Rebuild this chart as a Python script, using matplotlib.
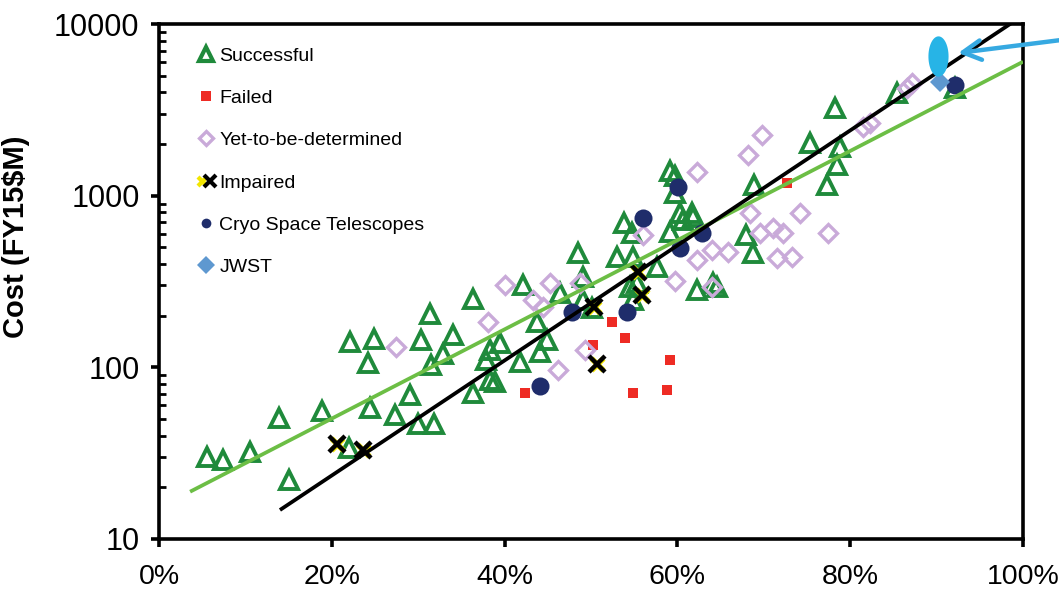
import numpy as np
import matplotlib
matplotlib.use("Agg")
import matplotlib.pyplot as plt
from matplotlib.lines import Line2D
from matplotlib.path import Path
from matplotlib.legend_handler import HandlerTuple
from matplotlib.ticker import PercentFormatter, FixedLocator, FuncFormatter, NullLocator

plt.rcParams['font.family'] = ['Liberation Sans', 'DejaVu Sans']

# ---- mission data: x = percent of development, y = cost in FY15 $M ----
succ_x = [5.6, 7.4, 10.5, 13.9, 15.0, 18.9, 22.0, 22.1, 24.2, 24.4, 24.9, 27.3, 29.1,
          30.0, 30.3, 31.4, 31.5, 31.8, 32.9, 34.0, 36.3, 36.3, 37.9, 38.3, 38.3, 38.9,
          39.5, 41.8, 42.1, 43.8, 44.1, 44.9, 46.4, 48.5, 49.1, 49.1, 50.1, 53.0, 53.8,
          54.7, 54.9, 54.5, 54.9, 55.3, 57.6, 59.1, 59.7, 59.7, 59.1, 60.3, 60.6, 61.7,
          61.8, 62.3, 64.1, 64.6, 67.9, 68.8, 68.9, 75.3, 77.3, 78.2, 78.5, 78.8, 85.4,
          92.1]
succ_y = [30, 29, 32, 51, 22, 56, 34, 141, 106, 58, 146, 53, 69,
          47, 144, 205, 103, 47, 120, 154, 250, 71, 110, 126, 84, 82,
          138, 107, 300, 184, 123, 144, 271, 463, 336, 247, 222, 440, 695,
          606, 440, 294, 247, 310, 384, 1400, 1300, 1037, 614, 793, 722, 793,
          752, 282, 310, 294, 590, 463, 1150, 2030, 1154, 3240, 1510, 1920, 3960,
          4240]

fail_x = [42.4, 50.2, 52.4, 53.9, 54.9, 58.8, 59.1, 72.7]
fail_y = [71, 135, 184, 148, 71, 74, 111, 1186]

tbd_x = [27.4, 38.1, 40.0, 43.3, 44.4, 45.3, 46.2, 48.7, 49.3, 56.0, 59.7, 62.3, 62.3,
         64.0, 64.0, 65.9, 68.2, 68.4, 69.6, 69.8, 71.1, 71.5, 72.2, 73.3, 74.2, 77.4,
         81.5, 82.3, 86.6, 87.2]
tbd_y = [131, 184, 300, 247, 225, 310, 96, 310, 126, 590, 318, 1375, 422,
         482, 294, 469, 1725, 793, 606, 2260, 648, 434, 606, 440, 793, 606,
         2510, 2650, 4240, 4530]

imp_x = [20.6, 23.6, 50.3, 50.7, 55.4, 55.9]
imp_y = [36, 33, 225, 104, 358, 264]

cryo_x = [44.1, 47.8, 54.2, 56.0, 60.1, 60.3, 62.8, 92.1]
cryo_y = [78, 210, 210, 741, 1123, 495, 606, 4420]

jwst_x = [90.4]
jwst_y = [4600]

# highlighted estimate (ellipse) and arrow tip
highlight_x = [90.2]
highlight_y = [6520]
arrow_tip = (92.5, 6780)

# exponential trend fits: log10(cost) = a + b * (percent / 100)
black_fit = (0.700, 3.35)
black_range = (14.0, 100.0)
green_fit = (1.182, 2.598)
green_range = (3.6, 100.0)

series_labels = ['Successful', 'Failed', 'Yet-to-be-determined', 'Impaired',
                 'Cryo Space Telescopes', 'JWST']
x_ticks = [0, 20, 40, 60, 80, 100]
y_ticks = [10, 100, 1000, 10000]

GREEN = '#1F8A3B'
RED = '#EE2B24'
LAVENDER = '#C9AAD9'
NAVY = '#1F2D6B'
YELLOW = '#F2E600'
STEEL = '#5E98D0'
LIGHT_GREEN = '#6CBE45'
CYAN = '#27B4E6'

fig = plt.figure(figsize=(10.59, 5.97), dpi=100)
ax = fig.add_axes([159 / 1059, 1 - 539 / 597, 864 / 1059, 515 / 597])
ax.set_yscale('log')

ax.plot(succ_x, succ_y, ls='none', marker='^', ms=13, mfc='none', mec=GREEN, mew=2.8, zorder=3)
ax.plot(fail_x, fail_y, ls='none', marker='s', ms=7, mfc=RED, mec=RED, mew=0, zorder=3)
ax.plot(tbd_x, tbd_y, ls='none', marker='D', ms=9, mfc='none', mec=LAVENDER, mew=2.4, zorder=3)
ax.plot(imp_x, imp_y, ls='none', marker='X', ms=12, mfc=YELLOW, mec='none', zorder=3.5)
ax.plot(imp_x, imp_y, ls='none', marker='x', ms=11, mec='black', mew=3.2, zorder=3.6)
ax.plot(cryo_x, cryo_y, ls='none', marker='o', ms=13, mfc=NAVY, mec=NAVY, mew=0, zorder=3.7)
ax.plot(jwst_x, jwst_y, ls='none', marker='D', ms=10, mfc=STEEL, mec=STEEL, mew=0, zorder=3.8)

# trend lines
for (a, b), (x0, x1), col in [(green_fit, green_range, LIGHT_GREEN),
                              (black_fit, black_range, 'black')]:
    xs = np.linspace(x0, x1, 200)
    ax.plot(xs, 10 ** (a + b * xs / 100), color=col, lw=2.7, zorder=4,
            solid_capstyle='butt')

# ellipse highlight
t = np.linspace(0, 2 * np.pi, 60)
ell = Path(np.column_stack([0.5 * np.cos(t), np.sin(t)]), closed=True)
ax.plot(highlight_x, highlight_y, ls='none', marker=ell, ms=29, mfc=CYAN, mec=CYAN,
        mew=0, zorder=5, clip_on=False)

ax.annotate('', xy=arrow_tip, xycoords='data', xytext=(1085, 560),
            textcoords='figure pixels', annotation_clip=False,
            arrowprops=dict(arrowstyle='->, head_length=1.3, head_width=0.7',
                            color='#36A9E1', lw=3.2, shrinkA=0, shrinkB=0),
            zorder=6)

ax.set_xlim(0, 100)
ax.set_ylim(10, 10000)
ax.xaxis.set_major_locator(FixedLocator(x_ticks))
ax.xaxis.set_major_formatter(PercentFormatter(100, decimals=0))
ax.xaxis.set_minor_locator(NullLocator())
ax.yaxis.set_major_locator(FixedLocator(y_ticks))
ax.yaxis.set_major_formatter(FuncFormatter(lambda v, p: f'{int(round(v))}'))
minor = [m * 10 ** e for e in range(1, 4) for m in range(2, 10)]
ax.yaxis.set_minor_locator(FixedLocator(minor))

for sp in ax.spines.values():
    sp.set_linewidth(2.6)
ax.tick_params(axis='both', which='major', direction='out', length=6, width=2.6,
               color='black')
ax.tick_params(axis='y', which='major', pad=8, labelsize=22)
ax.tick_params(axis='x', which='major', pad=12, labelsize=20.5)
ax.tick_params(axis='y', which='minor', direction='in', length=5, width=2.0)
ax.tick_params(top=False, right=False, which='both')

ax.set_ylabel('Cost (FY15\\$M)', fontsize=21, fontweight='bold')
ax.yaxis.set_label_coords((30 - 159) / 864, (539 - 237) / 515)

handles = [
    Line2D([], [], ls='none', marker='^', ms=10, mfc='white', mec=GREEN, mew=3),
    Line2D([], [], ls='none', marker='s', ms=7, mfc=RED, mec=RED, mew=0),
    Line2D([], [], ls='none', marker='D', ms=7, mfc='white', mec=LAVENDER, mew=2.4),
    (Line2D([], [], ls='none', marker='X', ms=9, mfc=YELLOW, mec='none'),
     Line2D([], [], ls='none', marker='x', ms=8, mec='black', mew=3)),
    Line2D([], [], ls='none', marker='o', ms=7, mfc=NAVY, mec=NAVY, mew=0),
    Line2D([], [], ls='none', marker='D', ms=9, mfc=STEEL, mec=STEEL, mew=0),
]
ax.legend(handles, series_labels, loc='upper left', frameon=False, fontsize=14,
          bbox_to_anchor=(198 / 1059, 1 - 47 / 597), bbox_transform=fig.transFigure,
          borderaxespad=0, borderpad=0, handlelength=0.8, handletextpad=0.3,
          labelspacing=1.27, handler_map={tuple: HandlerTuple(ndivide=None)})

fig.savefig('out.png', dpi=100)
